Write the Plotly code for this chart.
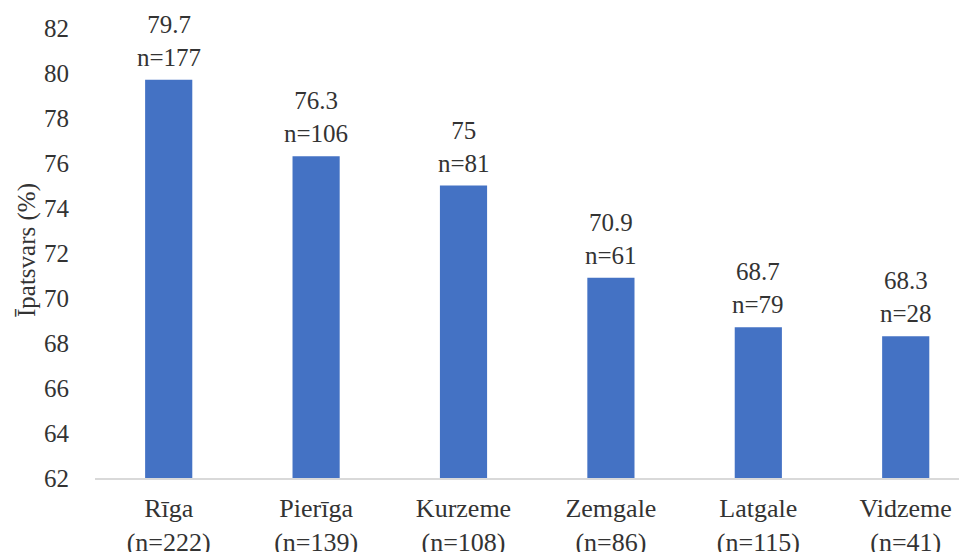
import plotly.graph_objects as go

regions = ["Rīga", "Pierīga", "Kurzeme", "Zemgale", "Latgale", "Vidzeme"]
region_n = [222, 139, 108, 86, 115, 41]
values = [79.7, 76.3, 75, 70.9, 68.7, 68.3]
sub_n = [177, 106, 81, 61, 79, 28]
y_ticks = list(range(62, 83, 2))

x_labels = [f"{r}<br>(n={n})" for r, n in zip(regions, region_n)]
bar_text = [f"{v:g}<br>n={n}" for v, n in zip(values, sub_n)]

FONT = "Liberation Serif, Times New Roman, serif"
COLOR = "#333333"

fig = go.Figure(go.Bar(
    x=list(range(len(regions))), y=values,
    marker=dict(color="#4472C4", line=dict(width=0)),
    width=0.32,
    cliponaxis=False,
))

for i, (v, t) in enumerate(zip(values, bar_text)):
    fig.add_annotation(x=i, y=v, text=t, showarrow=False, yanchor="bottom",
                       yshift=7, font=dict(family=FONT, size=25, color=COLOR))

fig.add_annotation(xref="paper", yref="paper", x=0, y=0.5, xshift=-68, yshift=3,
                   xanchor="center", yanchor="middle",
                   text="Īpatsvars (%)", textangle=-90, showarrow=False,
                   font=dict(family=FONT, size=25, color=COLOR))

fig.update_layout(
    width=967, height=552,
    margin=dict(l=87, r=0, t=20, b=82),
    plot_bgcolor="white", paper_bgcolor="white",
    font=dict(family=FONT, size=25, color=COLOR),
    showlegend=False,
)
fig.update_yaxes(
    range=[62, 82], tickvals=y_ticks, showgrid=False, zeroline=False,
    showline=False, ticks="outside", ticklen=20, tickcolor="rgba(0,0,0,0)",
    tickfont=dict(size=25), automargin=False,
)
fig.update_xaxes(
    range=[-0.5, 5.47], tickvals=list(range(len(regions))), ticktext=x_labels,
    showline=True, linecolor="#D9D9D9", linewidth=2,
    ticks="outside", ticklen=6, tickcolor="rgba(0,0,0,0)",
    tickfont=dict(size=26), showgrid=False, automargin=False,
)

fig.write_html("out.html")
